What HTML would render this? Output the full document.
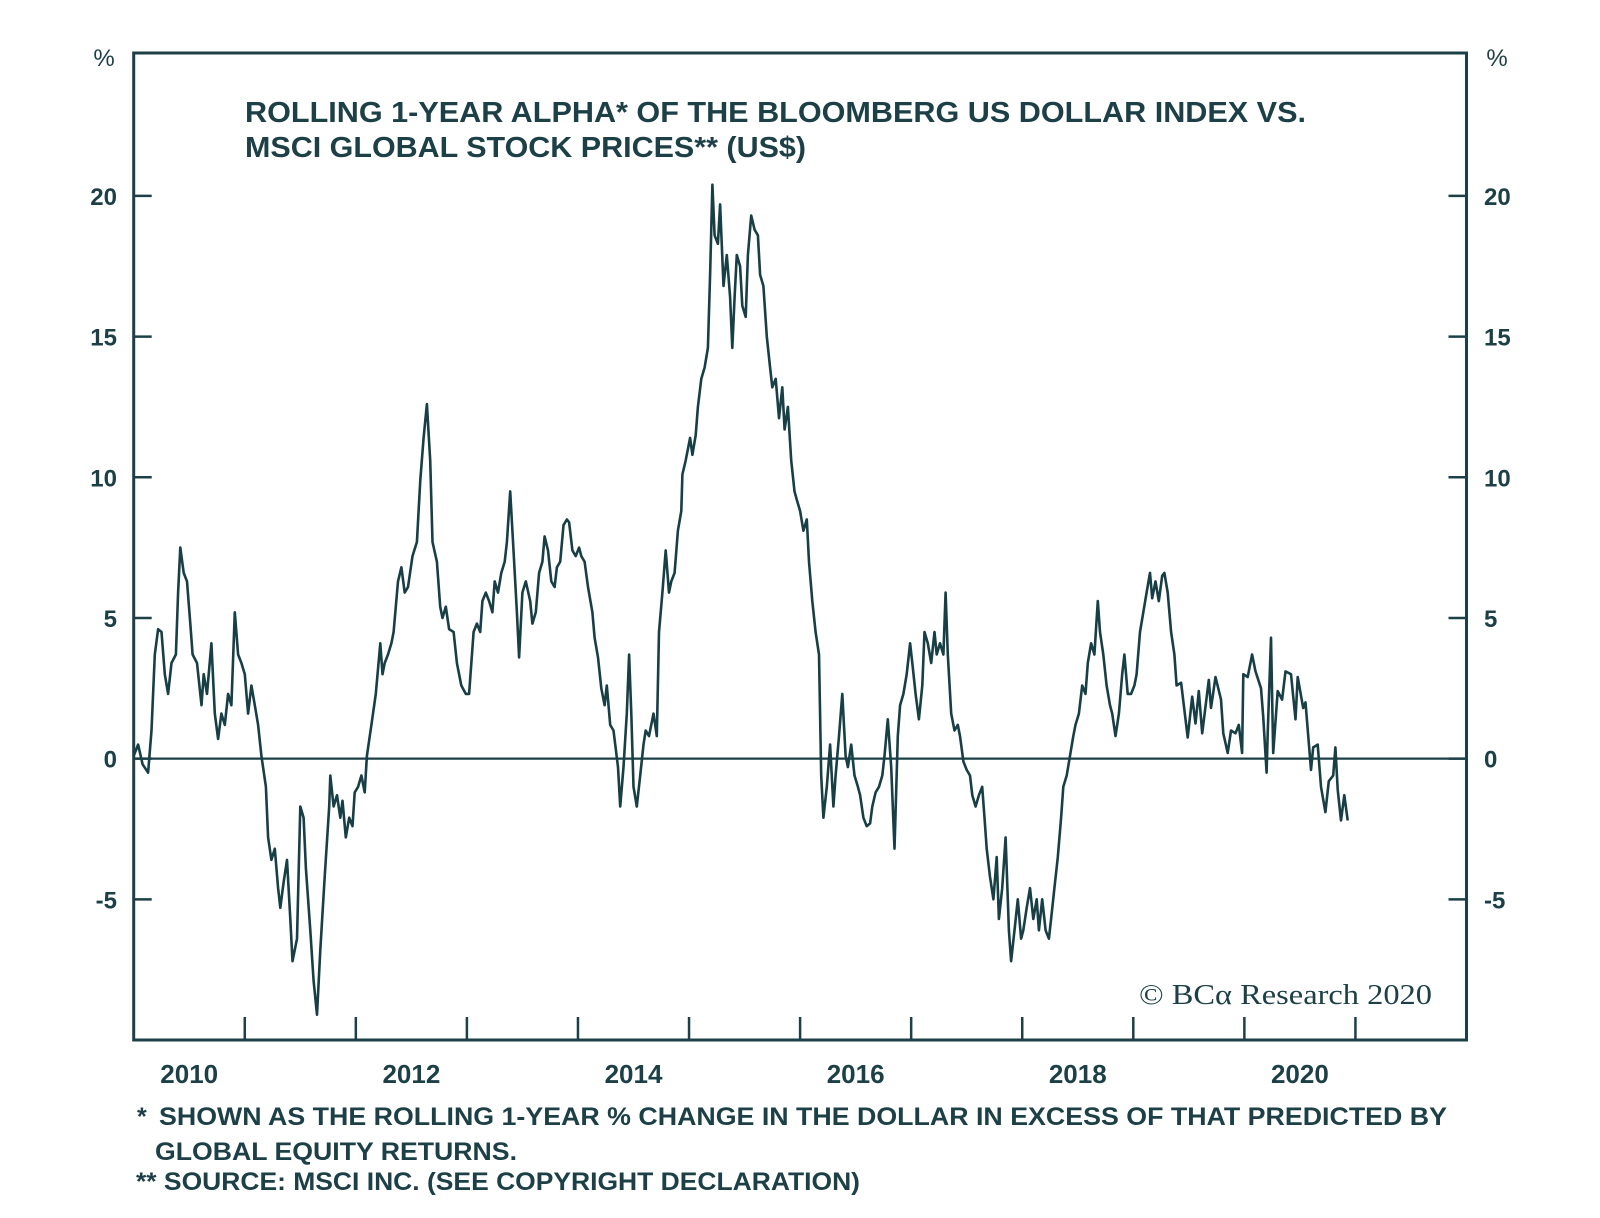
<!DOCTYPE html>
<html><head><meta charset="utf-8"><style>
html,body{margin:0;padding:0;background:#fff;}
svg{display:block;font-family:"Liberation Sans",sans-serif;}
</style></head><body>
<svg id="chart" width="1600" height="1218" viewBox="0 0 1600 1218" xmlns="http://www.w3.org/2000/svg">
<g fill="#1d4046" font-weight="bold" font-size="29">
<text x="245" y="122" textLength="1061" lengthAdjust="spacingAndGlyphs">ROLLING 1-YEAR ALPHA* OF THE BLOOMBERG US DOLLAR INDEX VS.</text>
<text x="245" y="157" textLength="561" lengthAdjust="spacingAndGlyphs">MSCI GLOBAL STOCK PRICES** (US$)</text>
</g>
<g id="axes"></g>
<path id="series" fill="none" stroke="#173f45" stroke-width="2.6" stroke-linejoin="round"/>
<text x="1139" y="1004" font-family="'Liberation Serif',serif" font-size="29" fill="#1d4046" textLength="293" lengthAdjust="spacingAndGlyphs">© BCα Research 2020</text>
<g fill="#1d4046" font-weight="bold" font-size="25">
<text x="137" y="1125">*</text>
<text x="159" y="1125" textLength="1288" lengthAdjust="spacingAndGlyphs">SHOWN AS THE ROLLING 1-YEAR % CHANGE IN THE DOLLAR IN EXCESS OF THAT PREDICTED BY</text>
<text x="155" y="1160" textLength="362" lengthAdjust="spacingAndGlyphs">GLOBAL EQUITY RETURNS.</text>
<text x="136" y="1190" textLength="724" lengthAdjust="spacingAndGlyphs">** SOURCE: MSCI INC. (SEE COPYRIGHT DECLARATION)</text>
</g>
</svg>
<script>
const yTicks = [-5, 0, 5, 10, 15, 20];
const yTickLabels = ["-5", "0", "5", "10", "15", "20"];
const xTickYears = [2011, 2012, 2013, 2014, 2015, 2016, 2017, 2018, 2019, 2020, 2021];
const xLabelYears = [2010, 2012, 2014, 2016, 2018, 2020];
const xLabels = ["2010", "2012", "2014", "2016", "2018", "2020"];
const dates = [0.00,.04,.08,.13,.16,.17,.19,.22,.25,.28,.31,.34,.38,.40,.42,.45,.48,.51,.53,.57,.61,.63,.66,.70,.73,.76,.79,.82,.85,.88,.91,.94,.97,1.00,1.03,1.06,1.09,1.12,1.15,1.19,1.21,1.24,1.27,1.30,1.32,1.35,1.38,1.41,1.43,1.47,1.50,1.53,1.55,1.59,1.62,1.65,1.68,1.72,1.76,1.77,1.80,1.83,1.86,1.88,1.91,1.94,1.97,1.99,2.02,2.05,2.08,2.10,2.14,2.18,2.22,2.24,2.26,2.29,2.32,2.34,2.38,2.41,2.44,2.47,2.51,2.55,2.58,2.61,2.64,2.67,2.69,2.73,2.76,2.78,2.81,2.84,2.88,2.91,2.95,2.99,3.02,3.06,3.09,3.12,3.14,3.17,3.20,3.23,3.25,3.28,3.31,3.34,3.36,3.39,3.42,3.45,3.47,3.50,3.53,3.57,3.59,3.62,3.65,3.68,3.70,3.73,3.76,3.79,3.81,3.84,3.87,3.90,3.92,3.95,3.98,4.01,4.03,4.06,4.09,4.13,4.15,4.18,4.21,4.24,4.26,4.29,4.32,4.36,4.38,4.41,4.44,4.46,4.48,4.50,4.53,4.56,4.59,4.61,4.64,4.68,4.71,4.73,4.76,4.79,4.82,4.84,4.87,4.90,4.93,4.94,4.97,5.01,5.03,5.06,5.08,5.11,5.14,5.17,5.19,5.21,5.23,5.26,5.28,5.31,5.34,5.37,5.39,5.41,5.43,5.46,5.48,5.51,5.53,5.56,5.59,5.62,5.64,5.67,5.70,5.73,5.75,5.78,5.81,5.84,5.86,5.89,5.92,5.95,5.97,6.00,6.03,6.06,6.08,6.11,6.14,6.17,6.19,6.21,6.24,6.27,6.30,6.32,6.35,6.38,6.41,6.43,6.46,6.49,6.52,6.54,6.57,6.60,6.63,6.65,6.68,6.71,6.74,6.76,6.79,6.82,6.85,6.88,6.90,6.93,6.96,6.99,7.01,7.04,7.07,7.10,7.12,7.15,7.18,7.21,7.23,7.26,7.29,7.31,7.33,7.36,7.39,7.42,7.44,7.47,7.50,7.53,7.55,7.58,7.61,7.64,7.66,7.68,7.71,7.74,7.77,7.79,7.82,7.85,7.88,7.90,7.93,7.96,7.99,8.01,8.04,8.07,8.10,8.13,8.15,8.18,8.21,8.24,8.26,8.29,8.32,8.35,8.37,8.40,8.43,8.46,8.48,8.51,8.54,8.57,8.59,8.62,8.65,8.68,8.70,8.73,8.76,8.79,8.81,8.84,8.87,8.90,8.92,8.95,8.98,9.01,9.03,9.06,9.09,9.12,9.15,9.17,9.20,9.23,9.26,9.28,9.31,9.34,9.37,9.39,9.43,9.49,9.53,9.56,9.59,9.62,9.68,9.70,9.74,9.79,9.81,9.85,9.88,9.92,9.95,9.98,9.99,10.03,10.04,10.07,10.10,10.15,10.17,10.20,10.21,10.24,10.26,10.30,10.34,10.37,10.42,10.46,10.48,10.53,10.55,10.60,10.62,10.66,10.69,10.73,10.76,10.80,10.82,10.84,10.87,10.90,10.93];
const alpha = [0.1,0.5,-0.2,-0.5,1.0,1.9,3.7,4.6,4.5,3.0,2.3,3.4,3.7,5.9,7.5,6.6,6.3,4.8,3.7,3.4,1.9,3.0,2.3,4.1,1.6,0.7,1.6,1.2,2.3,1.9,5.2,3.7,3.4,3.0,1.6,2.6,1.9,1.2,0.1,-1.0,-2.8,-3.6,-3.2,-4.6,-5.3,-4.4,-3.6,-5.7,-7.2,-6.4,-1.7,-2.1,-3.9,-6.1,-7.9,-9.1,-6.8,-4.2,-1.7,-0.6,-1.7,-1.3,-2.1,-1.5,-2.8,-2.1,-2.4,-1.2,-1.0,-0.6,-1.2,0.1,1.2,2.3,4.1,3.0,3.4,3.7,4.1,4.5,6.3,6.8,5.9,6.1,7.2,7.7,9.9,11.4,12.6,10.6,7.7,7.0,5.4,5.0,5.4,4.6,4.5,3.4,2.6,2.3,2.3,4.5,4.8,4.5,5.6,5.9,5.6,5.2,6.3,5.9,6.6,7.0,7.7,9.5,7.4,5.2,3.6,5.9,6.3,5.6,4.8,5.2,6.6,7.0,7.9,7.4,6.3,6.1,6.8,7.0,8.3,8.5,8.4,7.4,7.2,7.5,7.2,7.0,6.1,5.2,4.3,3.6,2.5,1.9,2.6,1.2,1.0,-0.3,-1.7,-0.3,1.6,3.7,1.6,-1.0,-1.7,-0.6,0.5,1.0,0.8,1.6,0.8,4.5,5.9,7.4,5.9,6.3,6.6,8.1,8.8,10.1,10.6,11.4,10.8,11.5,12.5,13.5,13.9,14.6,17.2,20.4,18.6,18.3,19.7,16.8,17.9,16.4,14.6,16.4,17.9,17.5,16.1,15.7,17.9,19.3,18.8,18.6,17.2,16.8,15.0,13.9,13.2,13.5,12.1,13.2,11.7,12.5,10.6,9.5,9.2,8.8,8.1,8.5,7.0,5.6,4.5,3.7,-0.6,-2.1,-1.0,0.5,-1.7,-0.6,0.8,2.3,0.1,-0.3,0.5,-0.6,-1.0,-1.3,-2.1,-2.4,-2.3,-1.7,-1.2,-1.0,-0.6,0.1,1.4,-0.3,-3.2,0.8,1.9,2.3,3.0,4.1,3.4,2.3,1.4,2.6,4.5,4.1,3.4,4.5,3.7,4.1,3.7,5.9,3.7,1.6,1.0,1.2,0.8,-0.1,-0.4,-0.6,-1.3,-1.7,-1.3,-1.0,-2.1,-3.2,-4.2,-5.0,-3.5,-5.7,-4.6,-2.8,-6.1,-7.2,-6.1,-5.0,-6.4,-6.1,-5.3,-4.6,-5.7,-5.0,-6.1,-5.0,-6.1,-6.4,-5.7,-4.6,-3.5,-2.1,-1.0,-0.6,0.1,0.8,1.2,1.6,2.6,2.3,3.4,4.1,3.7,5.6,4.5,3.7,2.6,1.9,1.6,0.8,1.6,3.0,3.7,2.3,2.3,2.6,3.0,4.5,5.2,5.9,6.6,5.7,6.3,5.6,6.5,6.6,5.9,4.5,3.7,2.6,2.7,0.75,2.2,1.25,2.4,0.9,2.8,1.8,2.9,2.1,0.9,0.2,1.0,0.9,1.2,0.2,3.0,2.9,3.1,3.7,3.1,2.5,1.5,-0.5,0.9,4.3,0.2,2.4,2.1,3.1,3.0,1.4,2.9,1.8,2.0,-0.4,0.4,0.5,-1.0,-1.9,-0.8,-0.6,0.4,-1.1,-2.2,-1.3,-2.2];

const L = 133.7, R = 1466.5, T = 53, B = 1040;
const xMin = 2010, xMax = 2022, yMin = -10, yMax = 25.08;
const xs = t => L + (t - xMin) / (xMax - xMin) * (R - L);
const ys = v => B - (v - yMin) / (yMax - yMin) * (B - T);
const NS = "http://www.w3.org/2000/svg";
const axes = document.getElementById('axes');
const C = "#1d4046";
function mk(tag, attrs, parent) {
  const e = document.createElementNS(NS, tag);
  for (const k in attrs) e.setAttribute(k, attrs[k]);
  (parent || axes).appendChild(e);
  return e;
}
const frame = mk('rect', {x: L, y: T, width: R - L, height: B - T, fill: 'none', stroke: C, 'stroke-width': 3});


const zero = mk('line', {x1: L, x2: R, y1: ys(0), y2: ys(0), stroke: C, 'stroke-width': 2.2});


yTicks.forEach((v, i) => {
  const y = ys(v);
  const t1 = mk('line', {x1: L, x2: L + 18, y1: y, y2: y, stroke: C, 'stroke-width': 2.5});
  
  
  const t2 = mk('line', {x1: R - 18, x2: R, y1: y, y2: y, stroke: C, 'stroke-width': 2.5});
  
  
  const a = mk('text', {x: 117, y: y + 9, 'text-anchor': 'end', 'font-size': 24, 'font-weight': 'bold', fill: C});
  a.textContent = yTickLabels[i];
  
  
  const b = mk('text', {x: 1484, y: y + 9, 'text-anchor': 'start', 'font-size': 24, 'font-weight': 'bold', fill: C});
  b.textContent = yTickLabels[i];
  
  
});
const p1 = mk('text', {x: 104, y: 66, 'text-anchor': 'middle', 'font-size': 24, fill: C});
p1.textContent = '%';


const p2 = mk('text', {x: 1497, y: 66, 'text-anchor': 'middle', 'font-size': 24, fill: C});
p2.textContent = '%';


xTickYears.forEach(yr => {
  const x = xs(yr);
  const t = mk('line', {x1: x, x2: x, y1: B - 23, y2: B, stroke: C, 'stroke-width': 2.5});
  
  
});
xLabelYears.forEach((yr, i) => {
  const t = mk('text', {x: xs(yr + 0.5), y: 1083, 'text-anchor': 'middle', 'font-size': 26, 'font-weight': 'bold', fill: C});
  t.textContent = xLabels[i];
  
  
});
let d = '';
const n = Math.min(dates.length, alpha.length);
for (let i = 0; i < n; i++) {
  d += (i ? 'L' : 'M') + xs(2010 + dates[i]).toFixed(1) + ',' + ys(alpha[i]).toFixed(1);
}
document.getElementById('series').setAttribute('d', d);
</script>
</body></html>
